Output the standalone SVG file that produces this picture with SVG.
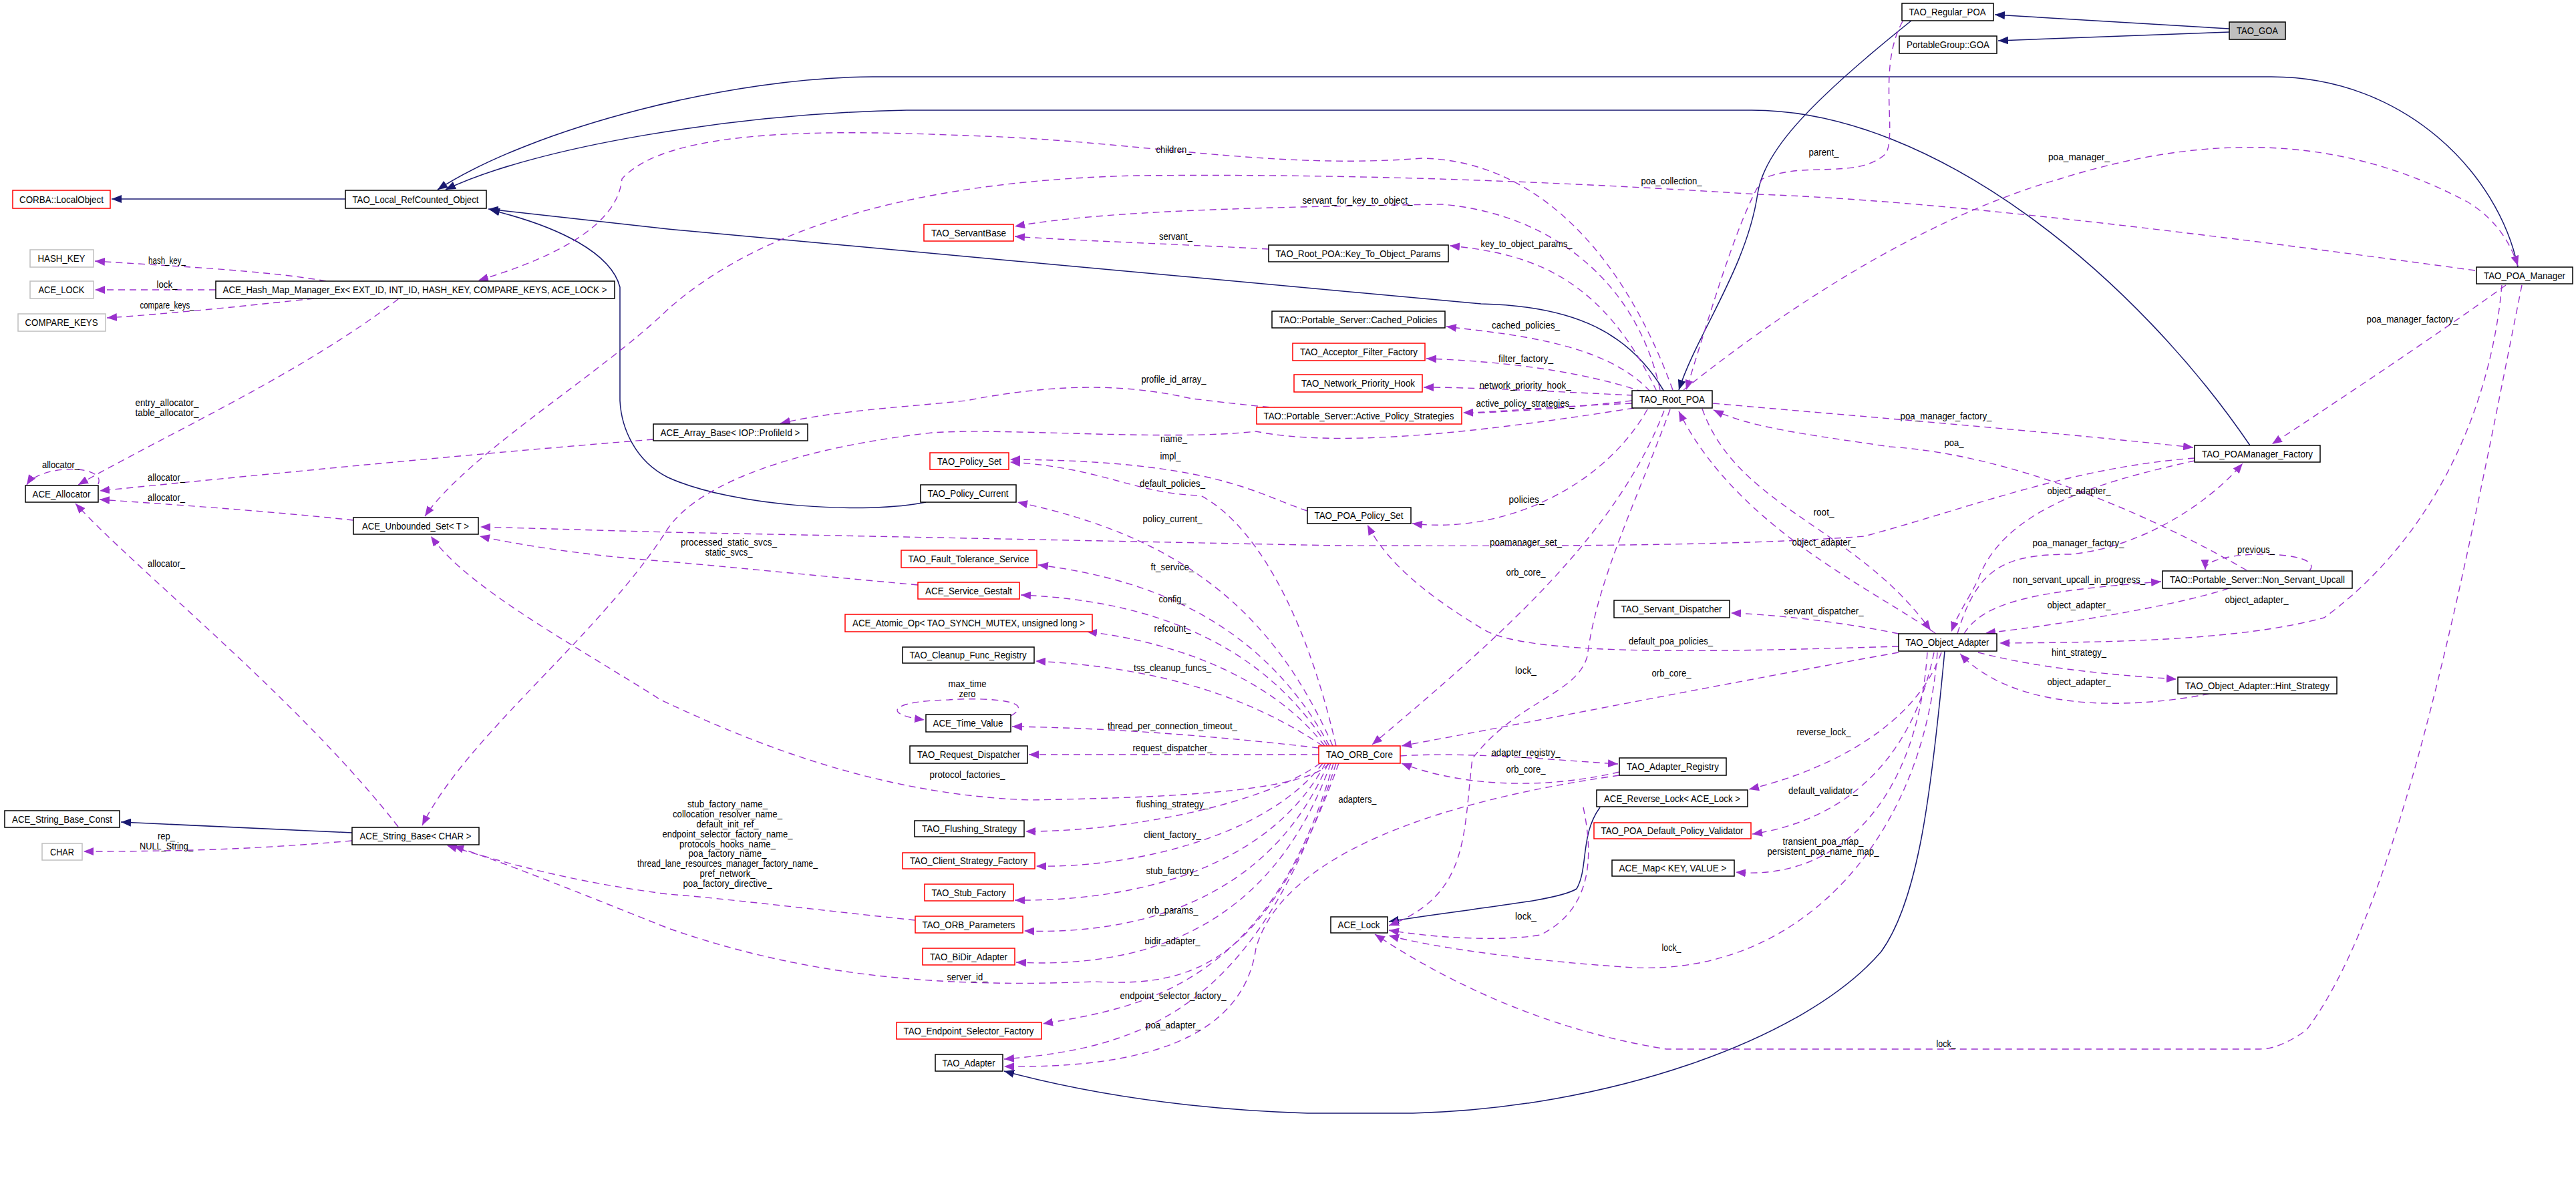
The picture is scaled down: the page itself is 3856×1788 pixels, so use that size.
<svg xmlns="http://www.w3.org/2000/svg" width="3856" height="1788" viewBox="0 0 3856 1788">
<style>
.n rect{fill:#fff;stroke:#000;stroke-width:1.5}
.n.r rect{stroke:#ff0000}
.n.g rect{stroke:#bfbfbf}
.n.f rect{fill:#bfbfbf}
text{font-family:"Liberation Sans",Arial,sans-serif;fill:#000}
.n text{font-size:15px;text-anchor:middle}
.l{font-size:14px;text-anchor:middle}
.s{fill:none;stroke:#191970;stroke-width:1.5;marker-end:url(#ah)}
.d{fill:none;stroke:#9a32cd;stroke-width:1.4;stroke-dasharray:10,7;marker-end:url(#ap)}
</style>
<defs>
<marker id="ah" markerUnits="userSpaceOnUse" markerWidth="16" markerHeight="12" refX="15" refY="6" orient="auto"><path d="M0,0 L15,6 L0,12 z" fill="#191970"/></marker>
<marker id="ap" markerUnits="userSpaceOnUse" markerWidth="16" markerHeight="12" refX="15" refY="6" orient="auto"><path d="M0,0 L15,6 L0,12 z" fill="#9a32cd"/></marker>
</defs>
<rect width="3856" height="1788" fill="#fff"/>
<g id="edges">
<path class="s" d="M517,298 L167,298"/>
<path class="s" d="M3337,43 L2986,22"/>
<path class="s" d="M3337,48 L2991,61"/>
<path class="s" d="M2861,31 C2700,160 2640,230 2631,290 C2615,400 2540,500 2513,584"/>
<path class="s" d="M3769,400 C3740,260 3600,115 3400,115 L1306,115 C1100,115 800,190 655,284"/>
<path class="s" d="M3368,667 C3200,420 2900,165 2622,165 L1357,165 C1100,170 800,220 667,284"/>
<path class="s" d="M2491,586 C2440,500 2360,458 2217,455 L1000,343 L731,313"/>
<path class="s" d="M1386,752 C1300,770 1100,760 1000,715 C950,690 930,640 928,600 L928,430 C915,380 840,340 733,314"/>
<path class="s" d="M527,1247 L181,1231"/>
<path class="s" d="M2395,1209 C2365,1250 2378,1300 2360,1331 C2330,1350 2200,1360 2079,1380"/>
<path class="s" d="M2911,975 C2890,1200 2870,1350 2816,1425 C2700,1560 2400,1660 2115,1667 L1957,1667 C1750,1660 1600,1630 1503,1604"/>

<path class="d" d="M488,421 C400,405 250,398 142,391"/>
<path class="d" d="M323,434 L142,434"/>
<path class="d" d="M470,447 C350,460 250,470 160,476"/>
<path class="d" d="M596,448 C450,560 250,650 117,726"/>
<path class="d" d="M147,725 C160,695 60,695 40,726"/>
<path class="d" d="M529,779 C400,765 250,755 149,748"/>
<path class="d" d="M978,658 C700,680 350,715 149,735"/>
<path class="d" d="M596,1238 C450,1050 200,850 113,754"/>
<path class="d" d="M527,1259 C400,1270 300,1275 125,1275"/>
<path class="d" d="M2504,584 C2430,380 2300,240 2128,237 C1900,255 1700,210 1446,203 C1250,195 1000,190 931,268 C925,330 850,380 716,420"/>
<path class="d" d="M3705,405 C3300,350 2900,300 2631,291 C2300,270 2000,260 1701,263 C1400,270 1150,330 1000,463 C900,560 700,680 636,773"/>
<path class="d" d="M2485,584 C2450,420 2320,320 2159,306 C1900,310 1650,315 1519,339"/>
<path class="d" d="M1899,373 C1750,365 1600,360 1519,354"/>
<path class="d" d="M2480,586 C2400,420 2300,380 2170,368"/>
<path class="d" d="M2470,586 C2400,510 2250,500 2165,489"/>
<path class="d" d="M2460,587 C2350,550 2220,540 2135,537"/>
<path class="d" d="M2445,592 C2300,585 2200,580 2131,580"/>
<path class="d" d="M2443,604 C2300,610 2250,617 2190,618"/>
<path class="d" d="M2443,600 C2100,640 1900,610 1784,597 C1700,578 1600,570 1446,600 C1350,610 1250,615 1168,634"/>
<path class="d" d="M2446,611 C2200,650 2000,670 1880,646 C1750,661 1500,640 1395,648 C1200,670 1050,720 1000,791 C900,950 700,1100 632,1236"/>
<path class="d" d="M2520,584 C2700,440 2900,320 3083,268 C3300,200 3500,200 3693,302 C3740,330 3760,370 3769,398"/>
<path class="d" d="M2848,32 C2810,100 2840,200 2823,230 C2780,270 2700,240 2638,268 C2600,330 2560,470 2524,584"/>
<path class="d" d="M2564,604 C2800,625 3000,640 3283,670"/>
<path class="d" d="M3363,854 C3200,760 3000,680 2829,669 C2700,650 2620,640 2565,614"/>
<path class="d" d="M3751,427 C3650,500 3500,600 3401,665"/>
<path class="d" d="M3775,427 C3700,800 3600,1350 3452,1543 C3420,1565 3400,1571 3382,1571 L2494,1571 C2300,1540 2150,1460 2058,1399"/>
<path class="d" d="M3745,427 C3730,600 3650,800 3479,925 C3350,960 3150,962 2993,963"/>
<path class="d" d="M3285,686 C3100,700 2950,760 2791,803 C2600,818 2300,818 2000,817 L1000,797 L719,789"/>
<path class="d" d="M3285,690 C3150,720 3000,760 2961,868 C2945,900 2930,920 2921,946"/>
<path class="d" d="M2548,612 C2600,760 2780,790 2890,944"/>
<path class="d" d="M2898,949 C2800,880 2600,790 2513,616"/>
<path class="d" d="M2930,949 C2960,850 3000,830 3100,830 C3200,820 3300,760 3357,694"/>
<path class="d" d="M2940,949 C2970,900 3050,885 3235,871"/>
<path class="d" d="M3457,855 C3485,822 3300,822 3301,853"/>
<path class="d" d="M3336,881 C3250,910 3050,940 2972,948"/>
<path class="d" d="M2961,977 C3050,1000 3150,1010 3258,1017"/>
<path class="d" d="M3307,1039 C3200,1060 3020,1070 2934,979"/>
<path class="d" d="M2842,949 C2750,930 2650,920 2591,918"/>
<path class="d" d="M2842,968 C2600,975 2300,985 2223,944 C2150,900 2080,850 2047,786"/>
<path class="d" d="M2842,977 C2600,1020 2300,1080 2098,1117"/>
<path class="d" d="M2500,613 C2450,750 2390,870 2376,983 C2360,1040 2270,1050 2204,1136 C2190,1250 2200,1340 2079,1386"/>
<path class="d" d="M2491,615 C2420,800 2250,950 2054,1115"/>
<path class="d" d="M2466,613 C2400,730 2250,800 2114,784"/>
<path class="d" d="M2906,977 C2870,1080 2750,1150 2618,1182"/>
<path class="d" d="M2895,977 C2860,1150 2750,1230 2623,1249"/>
<path class="d" d="M2885,977 C2870,1200 2750,1320 2598,1306"/>
<path class="d" d="M2900,977 C2880,1250 2700,1460 2446,1449 C2300,1440 2150,1420 2079,1401"/>
<path class="d" d="M2370,1209 C2385,1280 2385,1360 2306,1400 C2250,1410 2150,1405 2079,1393"/>
<path class="d" d="M2096,1132 C2200,1125 2350,1140 2422,1144"/>
<path class="d" d="M2424,1156 C2300,1185 2180,1175 2098,1143"/>
<path class="d" d="M2424,1161 C2150,1200 1920,1280 1880,1420 C1860,1560 1700,1600 1503,1597"/>
<path class="d" d="M2000,1117 C1950,900 1870,780 1797,742 C1700,740 1650,700 1512,692"/>
<path class="d" d="M1957,765 C1880,740 1820,690 1512,688"/>
<path class="d" d="M1995,1117 C1900,900 1750,800 1523,752"/>
<path class="d" d="M1990,1117 C1900,950 1750,870 1554,846"/>
<path class="d" d="M1987,1117 C1900,980 1750,900 1528,891"/>
<path class="d" d="M1983,1117 C1900,1010 1750,960 1627,946"/>
<path class="d" d="M1980,1117 C1880,1050 1750,1000 1550,990"/>
<path class="d" d="M1513,1072 C1560,1045 1450,1045 1420,1048 C1330,1050 1320,1070 1384,1078"/>
<path class="d" d="M1974,1120 C1800,1100 1650,1090 1515,1088"/>
<path class="d" d="M1974,1130 L1540,1130"/>
<path class="d" d="M1976,1143 C1900,1200 1700,1245 1535,1245"/>
<path class="d" d="M1980,1143 C1900,1250 1700,1300 1551,1297"/>
<path class="d" d="M1984,1143 C1900,1300 1700,1350 1519,1348"/>
<path class="d" d="M1988,1143 C1900,1350 1700,1400 1533,1394"/>
<path class="d" d="M1992,1143 C1900,1400 1700,1450 1521,1441"/>
<path class="d" d="M1996,1143 C1900,1480 1700,1510 1561,1533"/>
<path class="d" d="M2000,1143 C1880,1520 1700,1570 1503,1586"/>
<path class="d" d="M2004,1143 C1900,1430 1800,1480 1638,1470 C1400,1480 1200,1460 1000,1390 C850,1330 750,1290 679,1267"/>
<path class="d" d="M1370,1378 C1200,1360 1080,1345 1000,1339 C850,1320 750,1290 669,1266"/>
<path class="d" d="M1990,1143 C1950,1190 1700,1195 1542,1198 C1300,1190 1100,1100 989,1048 C850,960 700,880 645,803"/>
<path class="d" d="M1374,876 C1200,860 1050,845 1000,841 C850,830 750,810 718,803"/>

<g class="labels">
<text class="l" x="250" y="395" textLength="56" lengthAdjust="spacingAndGlyphs">hash_key_</text>
<text class="l" x="250" y="431" textLength="31" lengthAdjust="spacingAndGlyphs">lock_</text>
<text class="l" x="250" y="462" textLength="81" lengthAdjust="spacingAndGlyphs">compare_keys_</text>
<text class="l" x="250" y="608" textLength="95" lengthAdjust="spacingAndGlyphs">entry_allocator_</text>
<text class="l" x="250" y="623" textLength="95" lengthAdjust="spacingAndGlyphs">table_allocator_</text>
<text class="l" x="91" y="701" textLength="56" lengthAdjust="spacingAndGlyphs">allocator_</text>
<text class="l" x="249" y="720" textLength="56" lengthAdjust="spacingAndGlyphs">allocator_</text>
<text class="l" x="249" y="750" textLength="56" lengthAdjust="spacingAndGlyphs">allocator_</text>
<text class="l" x="249" y="849" textLength="56" lengthAdjust="spacingAndGlyphs">allocator_</text>
<text class="l" x="249" y="1257" textLength="26" lengthAdjust="spacingAndGlyphs">rep_</text>
<text class="l" x="249" y="1272" textLength="80" lengthAdjust="spacingAndGlyphs">NULL_String_</text>
<text class="l" x="1757" y="229" textLength="53" lengthAdjust="spacingAndGlyphs">children_</text>
<text class="l" x="2502" y="276" textLength="91" lengthAdjust="spacingAndGlyphs">poa_collection_</text>
<text class="l" x="2032" y="305" textLength="165" lengthAdjust="spacingAndGlyphs">servant_for_key_to_object_</text>
<text class="l" x="1760" y="359" textLength="50" lengthAdjust="spacingAndGlyphs">servant_</text>
<text class="l" x="2285" y="370" textLength="137" lengthAdjust="spacingAndGlyphs">key_to_object_params_</text>
<text class="l" x="2284" y="492" textLength="102" lengthAdjust="spacingAndGlyphs">cached_policies_</text>
<text class="l" x="2284" y="542" textLength="82" lengthAdjust="spacingAndGlyphs">filter_factory_</text>
<text class="l" x="2283" y="582" textLength="137" lengthAdjust="spacingAndGlyphs">network_priority_hook_</text>
<text class="l" x="2283" y="609" textLength="147" lengthAdjust="spacingAndGlyphs">active_policy_strategies_</text>
<text class="l" x="1757" y="573" textLength="97" lengthAdjust="spacingAndGlyphs">profile_id_array_</text>
<text class="l" x="1757" y="662" textLength="40" lengthAdjust="spacingAndGlyphs">name_</text>
<text class="l" x="3112" y="240" textLength="92" lengthAdjust="spacingAndGlyphs">poa_manager_</text>
<text class="l" x="2730" y="233" textLength="45" lengthAdjust="spacingAndGlyphs">parent_</text>
<text class="l" x="2913" y="628" textLength="137" lengthAdjust="spacingAndGlyphs">poa_manager_factory_</text>
<text class="l" x="2925" y="668" textLength="29" lengthAdjust="spacingAndGlyphs">poa_</text>
<text class="l" x="3611" y="483" textLength="137" lengthAdjust="spacingAndGlyphs">poa_manager_factory_</text>
<text class="l" x="2913" y="1568" textLength="29" lengthAdjust="spacingAndGlyphs">lock_</text>
<text class="l" x="3378" y="903" textLength="95" lengthAdjust="spacingAndGlyphs">object_adapter_</text>
<text class="l" x="2284" y="817" textLength="108" lengthAdjust="spacingAndGlyphs">poamanager_set_</text>
<text class="l" x="3112" y="740" textLength="95" lengthAdjust="spacingAndGlyphs">object_adapter_</text>
<text class="l" x="2730" y="817" textLength="95" lengthAdjust="spacingAndGlyphs">object_adapter_</text>
<text class="l" x="2730" y="772" textLength="31" lengthAdjust="spacingAndGlyphs">root_</text>
<text class="l" x="3111" y="818" textLength="137" lengthAdjust="spacingAndGlyphs">poa_manager_factory_</text>
<text class="l" x="3112" y="873" textLength="198" lengthAdjust="spacingAndGlyphs">non_servant_upcall_in_progress_</text>
<text class="l" x="3377" y="828" textLength="56" lengthAdjust="spacingAndGlyphs">previous_</text>
<text class="l" x="3112" y="911" textLength="95" lengthAdjust="spacingAndGlyphs">object_adapter_</text>
<text class="l" x="3112" y="982" textLength="82" lengthAdjust="spacingAndGlyphs">hint_strategy_</text>
<text class="l" x="3112" y="1026" textLength="95" lengthAdjust="spacingAndGlyphs">object_adapter_</text>
<text class="l" x="2730" y="920" textLength="119" lengthAdjust="spacingAndGlyphs">servant_dispatcher_</text>
<text class="l" x="2501" y="965" textLength="126" lengthAdjust="spacingAndGlyphs">default_poa_policies_</text>
<text class="l" x="2502" y="1013" textLength="59" lengthAdjust="spacingAndGlyphs">orb_core_</text>
<text class="l" x="2284" y="1009" textLength="32" lengthAdjust="spacingAndGlyphs">lock_</text>
<text class="l" x="2284" y="862" textLength="59" lengthAdjust="spacingAndGlyphs">orb_core_</text>
<text class="l" x="2285" y="753" textLength="53" lengthAdjust="spacingAndGlyphs">policies_</text>
<text class="l" x="2730" y="1101" textLength="81" lengthAdjust="spacingAndGlyphs">reverse_lock_</text>
<text class="l" x="2729" y="1189" textLength="104" lengthAdjust="spacingAndGlyphs">default_validator_</text>
<text class="l" x="2729" y="1265" textLength="121" lengthAdjust="spacingAndGlyphs">transient_poa_map_</text>
<text class="l" x="2729" y="1280" textLength="167" lengthAdjust="spacingAndGlyphs">persistent_poa_name_map_</text>
<text class="l" x="2502" y="1424" textLength="29" lengthAdjust="spacingAndGlyphs">lock_</text>
<text class="l" x="2284" y="1377" textLength="32" lengthAdjust="spacingAndGlyphs">lock_</text>
<text class="l" x="2284" y="1132" textLength="103" lengthAdjust="spacingAndGlyphs">adapter_registry_</text>
<text class="l" x="2284" y="1157" textLength="59" lengthAdjust="spacingAndGlyphs">orb_core_</text>
<text class="l" x="2032" y="1202" textLength="57" lengthAdjust="spacingAndGlyphs">adapters_</text>
<text class="l" x="1755" y="729" textLength="98" lengthAdjust="spacingAndGlyphs">default_policies_</text>
<text class="l" x="1752" y="688" textLength="31" lengthAdjust="spacingAndGlyphs">impl_</text>
<text class="l" x="1755" y="782" textLength="89" lengthAdjust="spacingAndGlyphs">policy_current_</text>
<text class="l" x="1755" y="854" textLength="65" lengthAdjust="spacingAndGlyphs">ft_service_</text>
<text class="l" x="1755" y="902" textLength="41" lengthAdjust="spacingAndGlyphs">config_</text>
<text class="l" x="1755" y="946" textLength="55" lengthAdjust="spacingAndGlyphs">refcount_</text>
<text class="l" x="1755" y="1005" textLength="116" lengthAdjust="spacingAndGlyphs">tss_cleanup_funcs_</text>
<text class="l" x="1448" y="1029" textLength="57" lengthAdjust="spacingAndGlyphs">max_time</text>
<text class="l" x="1448" y="1044" textLength="25" lengthAdjust="spacingAndGlyphs">zero</text>
<text class="l" x="1755" y="1092" textLength="194" lengthAdjust="spacingAndGlyphs">thread_per_connection_timeout_</text>
<text class="l" x="1755" y="1125" textLength="119" lengthAdjust="spacingAndGlyphs">request_dispatcher_</text>
<text class="l" x="1755" y="1209" textLength="108" lengthAdjust="spacingAndGlyphs">flushing_strategy_</text>
<text class="l" x="1755" y="1255" textLength="86" lengthAdjust="spacingAndGlyphs">client_factory_</text>
<text class="l" x="1755" y="1309" textLength="79" lengthAdjust="spacingAndGlyphs">stub_factory_</text>
<text class="l" x="1755" y="1368" textLength="77" lengthAdjust="spacingAndGlyphs">orb_params_</text>
<text class="l" x="1755" y="1414" textLength="83" lengthAdjust="spacingAndGlyphs">bidir_adapter_</text>
<text class="l" x="1756" y="1496" textLength="159" lengthAdjust="spacingAndGlyphs">endpoint_selector_factory_</text>
<text class="l" x="1756" y="1540" textLength="82" lengthAdjust="spacingAndGlyphs">poa_adapter_</text>
<text class="l" x="1448" y="1468" textLength="61" lengthAdjust="spacingAndGlyphs">server_id_</text>
<text class="l" x="1089" y="1209" textLength="120" lengthAdjust="spacingAndGlyphs">stub_factory_name_</text>
<text class="l" x="1089" y="1224" textLength="164" lengthAdjust="spacingAndGlyphs">collocation_resolver_name_</text>
<text class="l" x="1089" y="1239" textLength="93" lengthAdjust="spacingAndGlyphs">default_init_ref_</text>
<text class="l" x="1089" y="1254" textLength="195" lengthAdjust="spacingAndGlyphs">endpoint_selector_factory_name_</text>
<text class="l" x="1089" y="1269" textLength="144" lengthAdjust="spacingAndGlyphs">protocols_hooks_name_</text>
<text class="l" x="1089" y="1283" textLength="117" lengthAdjust="spacingAndGlyphs">poa_factory_name_</text>
<text class="l" x="1089" y="1298" textLength="270" lengthAdjust="spacingAndGlyphs">thread_lane_resources_manager_factory_name_</text>
<text class="l" x="1089" y="1313" textLength="83" lengthAdjust="spacingAndGlyphs">pref_network_</text>
<text class="l" x="1089" y="1328" textLength="133" lengthAdjust="spacingAndGlyphs">poa_factory_directive_</text>
<text class="l" x="1448" y="1165" textLength="113" lengthAdjust="spacingAndGlyphs">protocol_factories_</text>
<text class="l" x="1091" y="817" textLength="144" lengthAdjust="spacingAndGlyphs">processed_static_svcs_</text>
<text class="l" x="1091" y="832" textLength="71" lengthAdjust="spacingAndGlyphs">static_svcs_</text>
</g>
</g>

<g id="n1" class="n r"><rect x="19" y="285" width="146" height="27"/><text x="92" y="304" textLength="126" lengthAdjust="spacingAndGlyphs">CORBA::LocalObject</text></g>
<g id="n2" class="n"><rect x="517" y="285" width="211" height="27"/><text x="622" y="304" textLength="189" lengthAdjust="spacingAndGlyphs">TAO_Local_RefCounted_Object</text></g>
<g id="n3" class="n g"><rect x="45" y="374" width="95" height="26"/><text x="92" y="392" textLength="71" lengthAdjust="spacingAndGlyphs">HASH_KEY</text></g>
<g id="n4" class="n g"><rect x="45" y="421" width="95" height="26"/><text x="92" y="439" textLength="69" lengthAdjust="spacingAndGlyphs">ACE_LOCK</text></g>
<g id="n5" class="n g"><rect x="27" y="470" width="131" height="26"/><text x="92" y="488" textLength="109" lengthAdjust="spacingAndGlyphs">COMPARE_KEYS</text></g>
<g id="n6" class="n"><rect x="323" y="421" width="597" height="26"/><text x="621" y="439" textLength="575" lengthAdjust="spacingAndGlyphs">ACE_Hash_Map_Manager_Ex&lt; EXT_ID, INT_ID, HASH_KEY, COMPARE_KEYS, ACE_LOCK &gt;</text></g>
<g id="n7" class="n"><rect x="38" y="727" width="109" height="25"/><text x="92" y="745" textLength="87" lengthAdjust="spacingAndGlyphs">ACE_Allocator</text></g>
<g id="n8" class="n"><rect x="529" y="775" width="187" height="25"/><text x="622" y="793" textLength="160" lengthAdjust="spacingAndGlyphs">ACE_Unbounded_Set&lt; T &gt;</text></g>
<g id="n9" class="n"><rect x="978" y="635" width="231" height="25"/><text x="1093" y="653" textLength="209" lengthAdjust="spacingAndGlyphs">ACE_Array_Base&lt; IOP::ProfileId &gt;</text></g>
<g id="n10" class="n"><rect x="7" y="1214" width="172" height="25"/><text x="93" y="1232" textLength="150" lengthAdjust="spacingAndGlyphs">ACE_String_Base_Const</text></g>
<g id="n11" class="n g"><rect x="63" y="1263" width="60" height="25"/><text x="93" y="1281" textLength="36" lengthAdjust="spacingAndGlyphs">CHAR</text></g>
<g id="n12" class="n"><rect x="527" y="1239" width="190" height="26"/><text x="622" y="1257" textLength="167" lengthAdjust="spacingAndGlyphs">ACE_String_Base&lt; CHAR &gt;</text></g>
<g id="n13" class="n r"><rect x="1383" y="336" width="134" height="25"/><text x="1450" y="354" textLength="112" lengthAdjust="spacingAndGlyphs">TAO_ServantBase</text></g>
<g id="n14" class="n"><rect x="1899" y="367" width="269" height="25"/><text x="2033" y="385" textLength="247" lengthAdjust="spacingAndGlyphs">TAO_Root_POA::Key_To_Object_Params</text></g>
<g id="n15" class="n"><rect x="1904" y="466" width="259" height="25"/><text x="2033" y="484" textLength="237" lengthAdjust="spacingAndGlyphs">TAO::Portable_Server::Cached_Policies</text></g>
<g id="n16" class="n r"><rect x="1935" y="514" width="198" height="26"/><text x="2034" y="532" textLength="176" lengthAdjust="spacingAndGlyphs">TAO_Acceptor_Filter_Factory</text></g>
<g id="n17" class="n r"><rect x="1937" y="561" width="192" height="26"/><text x="2033" y="579" textLength="170" lengthAdjust="spacingAndGlyphs">TAO_Network_Priority_Hook</text></g>
<g id="n18" class="n r"><rect x="1881" y="610" width="307" height="25"/><text x="2034" y="628" textLength="285" lengthAdjust="spacingAndGlyphs">TAO::Portable_Server::Active_Policy_Strategies</text></g>
<g id="n19" class="n r"><rect x="1392" y="678" width="118" height="25"/><text x="1451" y="696" textLength="96" lengthAdjust="spacingAndGlyphs">TAO_Policy_Set</text></g>
<g id="n20" class="n"><rect x="1378" y="726" width="143" height="26"/><text x="1449" y="744" textLength="121" lengthAdjust="spacingAndGlyphs">TAO_Policy_Current</text></g>
<g id="n21" class="n"><rect x="1957" y="760" width="155" height="24"/><text x="2034" y="777" textLength="133" lengthAdjust="spacingAndGlyphs">TAO_POA_Policy_Set</text></g>
<g id="n22" class="n r"><rect x="1349" y="824" width="203" height="26"/><text x="1450" y="842" textLength="181" lengthAdjust="spacingAndGlyphs">TAO_Fault_Tolerance_Service</text></g>
<g id="n23" class="n r"><rect x="1374" y="872" width="152" height="25"/><text x="1450" y="890" textLength="130" lengthAdjust="spacingAndGlyphs">ACE_Service_Gestalt</text></g>
<g id="n24" class="n r"><rect x="1265" y="920" width="370" height="26"/><text x="1450" y="938" textLength="348" lengthAdjust="spacingAndGlyphs">ACE_Atomic_Op&lt; TAO_SYNCH_MUTEX, unsigned long &gt;</text></g>
<g id="n25" class="n"><rect x="1351" y="969" width="197" height="24"/><text x="1449" y="986" textLength="175" lengthAdjust="spacingAndGlyphs">TAO_Cleanup_Func_Registry</text></g>
<g id="n26" class="n"><rect x="1386" y="1070" width="127" height="26"/><text x="1449" y="1088" textLength="105" lengthAdjust="spacingAndGlyphs">ACE_Time_Value</text></g>
<g id="n27" class="n"><rect x="1362" y="1117" width="176" height="26"/><text x="1450" y="1135" textLength="154" lengthAdjust="spacingAndGlyphs">TAO_Request_Dispatcher</text></g>
<g id="n28" class="n r"><rect x="1974" y="1117" width="122" height="26"/><text x="2035" y="1135" textLength="100" lengthAdjust="spacingAndGlyphs">TAO_ORB_Core</text></g>
<g id="n29" class="n"><rect x="1369" y="1229" width="164" height="24"/><text x="1451" y="1246" textLength="142" lengthAdjust="spacingAndGlyphs">TAO_Flushing_Strategy</text></g>
<g id="n30" class="n r"><rect x="1351" y="1277" width="198" height="24"/><text x="1450" y="1294" textLength="176" lengthAdjust="spacingAndGlyphs">TAO_Client_Strategy_Factory</text></g>
<g id="n31" class="n r"><rect x="1384" y="1324" width="133" height="25"/><text x="1450" y="1342" textLength="111" lengthAdjust="spacingAndGlyphs">TAO_Stub_Factory</text></g>
<g id="n32" class="n r"><rect x="1370" y="1372" width="161" height="25"/><text x="1450" y="1390" textLength="139" lengthAdjust="spacingAndGlyphs">TAO_ORB_Parameters</text></g>
<g id="n33" class="n r"><rect x="1381" y="1420" width="138" height="25"/><text x="1450" y="1438" textLength="116" lengthAdjust="spacingAndGlyphs">TAO_BiDir_Adapter</text></g>
<g id="n34" class="n r"><rect x="1342" y="1531" width="217" height="25"/><text x="1450" y="1549" textLength="195" lengthAdjust="spacingAndGlyphs">TAO_Endpoint_Selector_Factory</text></g>
<g id="n35" class="n"><rect x="1400" y="1579" width="101" height="25"/><text x="1450" y="1597" textLength="79" lengthAdjust="spacingAndGlyphs">TAO_Adapter</text></g>
<g id="n36" class="n"><rect x="2847" y="5" width="137" height="26"/><text x="2915" y="23" textLength="115" lengthAdjust="spacingAndGlyphs">TAO_Regular_POA</text></g>
<g id="n37" class="n"><rect x="2843" y="54" width="146" height="26"/><text x="2916" y="72" textLength="124" lengthAdjust="spacingAndGlyphs">PortableGroup::GOA</text></g>
<g id="n38" class="n f"><rect x="3337" y="33" width="84" height="26"/><text x="3379" y="51" textLength="62" lengthAdjust="spacingAndGlyphs">TAO_GOA</text></g>
<g id="n39" class="n"><rect x="2443" y="585" width="120" height="26"/><text x="2503" y="603" textLength="98" lengthAdjust="spacingAndGlyphs">TAO_Root_POA</text></g>
<g id="n40" class="n"><rect x="3707" y="400" width="144" height="25"/><text x="3779" y="418" textLength="122" lengthAdjust="spacingAndGlyphs">TAO_POA_Manager</text></g>
<g id="n41" class="n"><rect x="3285" y="667" width="188" height="25"/><text x="3379" y="685" textLength="166" lengthAdjust="spacingAndGlyphs">TAO_POAManager_Factory</text></g>
<g id="n42" class="n"><rect x="3237" y="855" width="284" height="26"/><text x="3379" y="873" textLength="262" lengthAdjust="spacingAndGlyphs">TAO::Portable_Server::Non_Servant_Upcall</text></g>
<g id="n43" class="n"><rect x="2842" y="949" width="147" height="26"/><text x="2915" y="967" textLength="125" lengthAdjust="spacingAndGlyphs">TAO_Object_Adapter</text></g>
<g id="n44" class="n"><rect x="3260" y="1014" width="238" height="25"/><text x="3379" y="1032" textLength="216" lengthAdjust="spacingAndGlyphs">TAO_Object_Adapter::Hint_Strategy</text></g>
<g id="n45" class="n"><rect x="2416" y="899" width="173" height="26"/><text x="2502" y="917" textLength="151" lengthAdjust="spacingAndGlyphs">TAO_Servant_Dispatcher</text></g>
<g id="n46" class="n"><rect x="2424" y="1135" width="160" height="26"/><text x="2504" y="1153" textLength="138" lengthAdjust="spacingAndGlyphs">TAO_Adapter_Registry</text></g>
<g id="n47" class="n"><rect x="2390" y="1183" width="226" height="25"/><text x="2503" y="1201" textLength="204" lengthAdjust="spacingAndGlyphs">ACE_Reverse_Lock&lt; ACE_Lock &gt;</text></g>
<g id="n48" class="n r"><rect x="2386" y="1232" width="235" height="24"/><text x="2503" y="1249" textLength="213" lengthAdjust="spacingAndGlyphs">TAO_POA_Default_Policy_Validator</text></g>
<g id="n49" class="n"><rect x="2413" y="1288" width="183" height="24"/><text x="2504" y="1305" textLength="161" lengthAdjust="spacingAndGlyphs">ACE_Map&lt; KEY, VALUE &gt;</text></g>
<g id="n50" class="n"><rect x="1992" y="1373" width="85" height="24"/><text x="2034" y="1390" textLength="63" lengthAdjust="spacingAndGlyphs">ACE_Lock</text></g>
</svg>
